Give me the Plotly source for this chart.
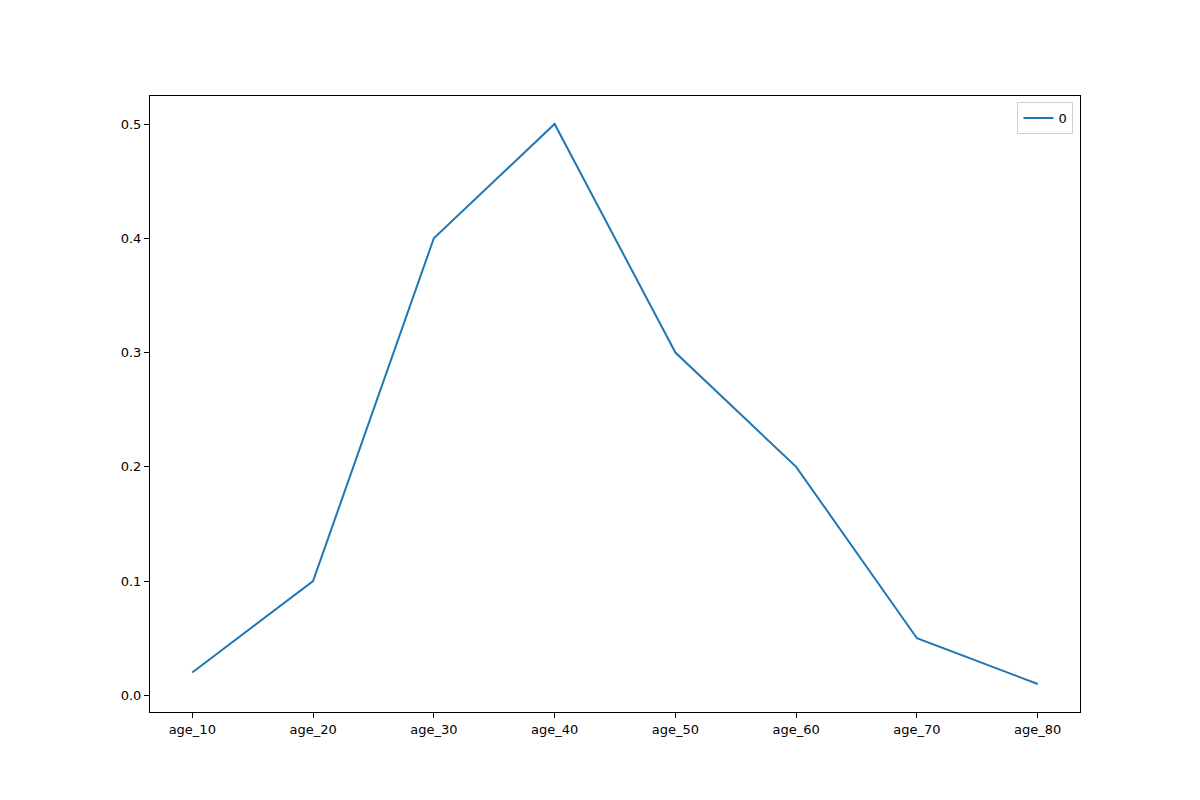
import plotly.graph_objects as go

# age groups and their share
ages = ["age_10", "age_20", "age_30", "age_40", "age_50", "age_60", "age_70", "age_80"]
share = [0.02, 0.1, 0.4, 0.5, 0.3, 0.2, 0.05, 0.01]
y_ticks = [0.0, 0.1, 0.2, 0.3, 0.4, 0.5]

xpos = list(range(len(ages)))

fig = go.Figure()
fig.add_trace(go.Scatter(
    x=xpos, y=share, mode="lines", name="0",
    line=dict(color="#1f77b4", width=2),
))

axis_style = dict(
    showgrid=False, zeroline=False, showline=True, linecolor="black",
    linewidth=1, mirror=True, ticks="outside", ticklen=5, tickcolor="black",
    tickfont=dict(family="DejaVu Sans", size=13, color="black"),
)

fig.update_xaxes(range=[-0.35, 7.35], tickvals=xpos, ticktext=ages, **axis_style)
fig.update_yaxes(range=[-0.0145, 0.5245], tickvals=y_ticks,
                 ticktext=[f"{v:.1f}" for v in y_ticks], **axis_style)

fig.update_layout(
    width=1200, height=800,
    margin=dict(l=142, r=128, t=88, b=96),
    plot_bgcolor="white", paper_bgcolor="white",
    showlegend=True,
    legend=dict(
        x=0.993, y=0.99, xanchor="right", yanchor="top",
        bgcolor="white", bordercolor="#d0d0d0", borderwidth=1,
        font=dict(family="DejaVu Sans", size=13, color="black"),
    ),
)

fig.write_html("out.html")
